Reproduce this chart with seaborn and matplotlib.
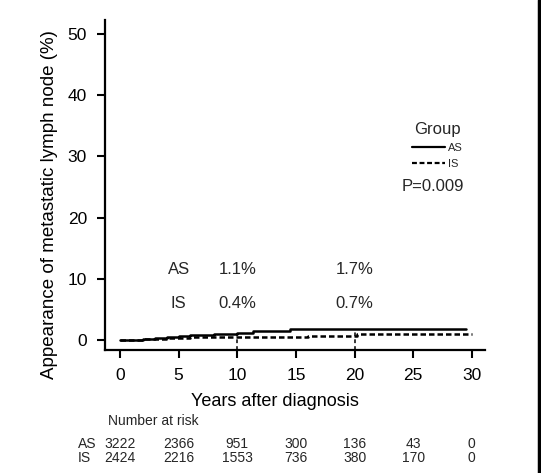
import numpy as np
import matplotlib
matplotlib.use('Agg')
import matplotlib.pyplot as plt
from matplotlib.lines import Line2D
import seaborn as sns
import pandas as pd

# krzywe skumulowanej częstości
as_time = [0, 1, 2, 3, 4, 5, 6, 7, 8, 9, 10, 11.3, 14.5, 29.5]
as_value = [0, 0.05, 0.15, 0.3, 0.45, 0.6, 0.75, 0.85, 0.95, 1.05, 1.15, 1.45, 1.85, 1.85]
is_time = [0, 2, 3, 4, 5, 6, 8, 10, 13, 16, 18, 20.2, 30]
is_value = [0, 0.1, 0.2, 0.3, 0.4, 0.45, 0.5, 0.5, 0.55, 0.6, 0.7, 0.95, 0.95]

# adnotacje w punktach 10 i 20 lat
mark_years = [10, 20]
as_marks = ['1.1%', '1.7%']
is_marks = ['0.4%', '0.7%']

# liczba pacjentów w grupie ryzyka
risk_years = [0, 5, 10, 15, 20, 25, 30]
risk_as = [3222, 2366, 951, 300, 136, 43, 0]
risk_is = [2424, 2216, 1553, 736, 380, 170, 0]

df = pd.concat([
    pd.DataFrame({'time': as_time, 'value': as_value, 'Group': 'AS'}),
    pd.DataFrame({'time': is_time, 'value': is_value, 'Group': 'IS'}),
])

sns.set_theme(style='ticks')
plt.rcParams['font.family'] = ['Liberation Sans', 'DejaVu Sans']

fig = plt.figure(figsize=(5.41, 4.73), dpi=100)
ax = fig.add_axes([0.194, 0.26, 0.702, 0.698])

sns.lineplot(data=df, x='time', y='value', hue='Group', style='Group',
             palette={'AS': 'black', 'IS': 'black'},
             dashes={'AS': '', 'IS': (2.2, 1.2)},
             estimator=None, drawstyle='steps-post', linewidth=1.8, ax=ax)

# przerywane linie pionowe w 10 i 20 latach
for yr in mark_years:
    top = np.interp(yr, as_time, as_value)
    ax.plot([yr, yr], [-1.63, top], color='black', lw=1.1, ls=(0, (2.5, 2)))

ax.set_xlim(-1.28, 31.1)
ax.set_ylim(-1.63, 52.3)
ax.set_xticks([0, 5, 10, 15, 20, 25, 30])
ax.set_yticks([0, 10, 20, 30, 40, 50])
ax.tick_params(labelsize=12.5, width=1.5, length=6, pad=7, color='black', labelcolor='black')
for s in ['top', 'right']:
    ax.spines[s].set_visible(False)
for s in ['left', 'bottom']:
    ax.spines[s].set_linewidth(1.6)
    ax.spines[s].set_color('black')

ax.set_xlabel('Years after diagnosis', fontsize=13, color='black')
ax.set_ylabel('Appearance of metastatic lymph node (%)', fontsize=13.5, color='black')
ax.xaxis.set_label_coords(0.447, -0.13)
ax.yaxis.set_label_coords(-0.124, 0.442)

# tekst z odsetkami
ax.text(5, 11.5, 'AS', fontsize=12, ha='center', va='center')
ax.text(5, 6.0, 'IS', fontsize=12, ha='center', va='center')
for yr, a, b in zip(mark_years, as_marks, is_marks):
    ax.text(yr, 11.5, a, fontsize=12, ha='center', va='center')
    ax.text(yr, 6.0, b, fontsize=12, ha='center', va='center')

# legenda
leg = ax.legend(title='Group', loc='center', bbox_to_anchor=(0.875, 0.62),
                frameon=False, fontsize=8, title_fontsize=12,
                handlelength=3.0, handletextpad=0.3, labelspacing=0.55,
                borderpad=0)
for h in leg.get_lines():
    h.set_linewidth(1.6)
ax.text(26.7, 25.0, 'P=0.009', fontsize=12, ha='center', va='center')

# tabela liczby pacjentów
ax.text(-1.0, -13.3, 'Number at risk', fontsize=10, ha='left', va='center', clip_on=False)
ax.text(-3.6, -17.0, 'AS', fontsize=10, ha='left', va='center', clip_on=False)
ax.text(-3.6, -19.2, 'IS', fontsize=10, ha='left', va='center', clip_on=False)
for yr, a, b in zip(risk_years, risk_as, risk_is):
    ax.text(yr, -17.0, str(a), fontsize=10, ha='center', va='center', clip_on=False)
    ax.text(yr, -19.2, str(b), fontsize=10, ha='center', va='center', clip_on=False)

# czarna ramka z prawej strony
fig.add_artist(Line2D([0.9965, 0.9965], [0, 1], transform=fig.transFigure, color='black', lw=2.5))

fig.savefig('out.png', dpi=100)
